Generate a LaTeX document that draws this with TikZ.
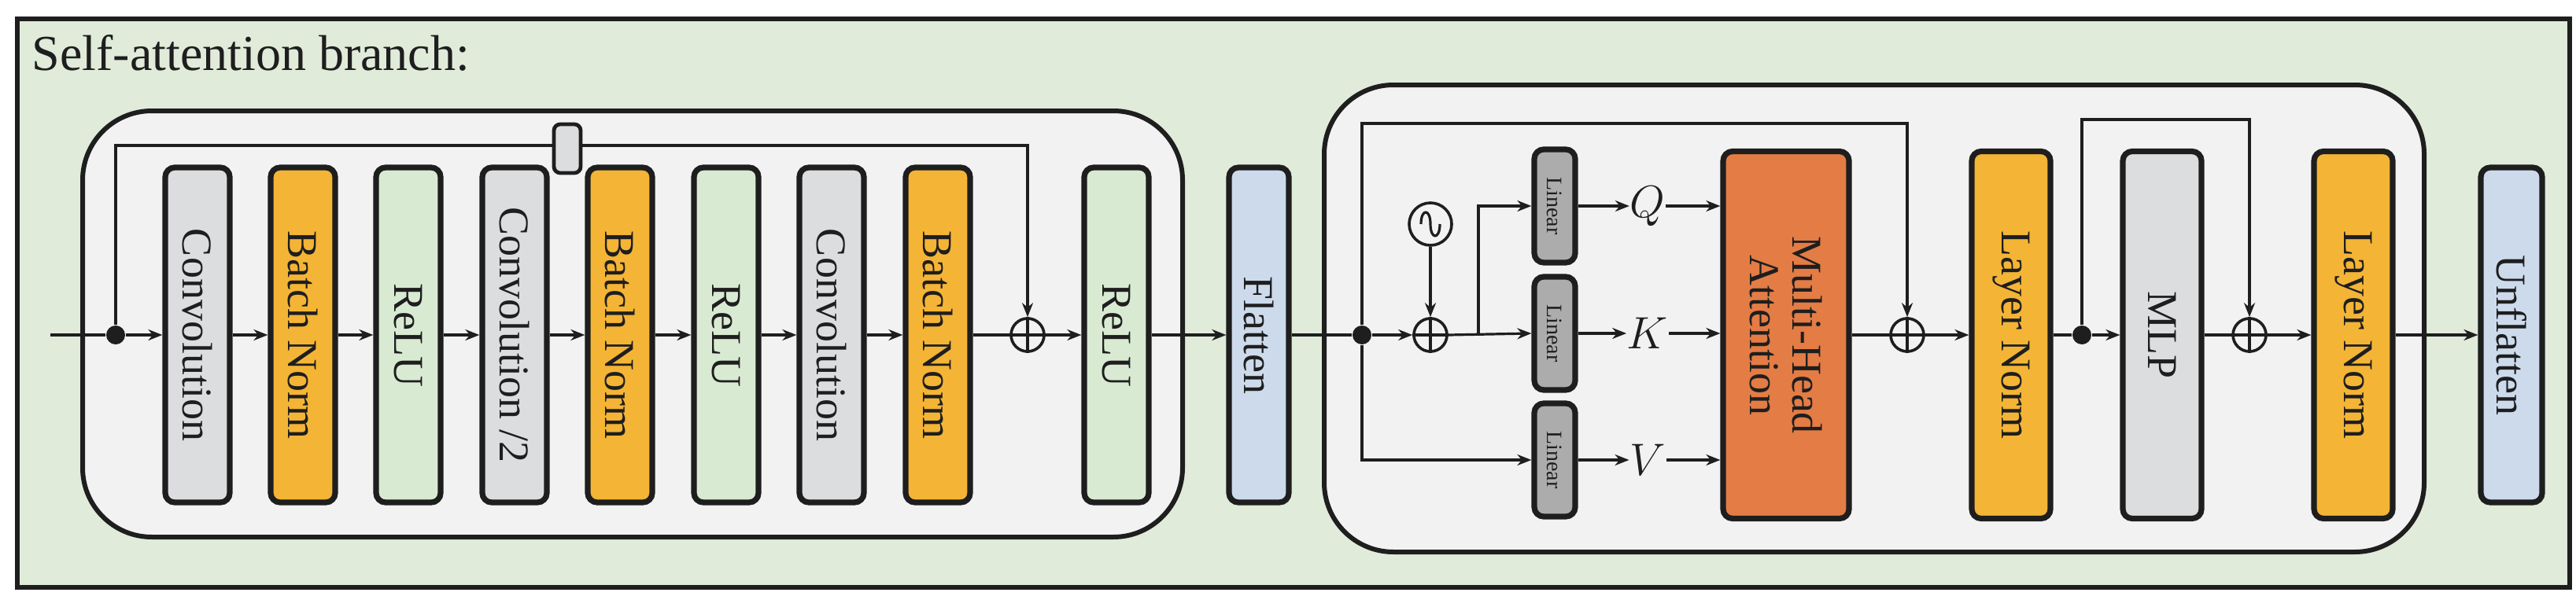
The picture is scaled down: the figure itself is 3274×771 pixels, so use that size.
\documentclass[tikz,border=0pt]{standalone}
\usepackage{fontspec}
\setmainfont{Liberation Serif}
\usetikzlibrary{arrows.meta}
\definecolor{bggreen}{HTML}{E0EBDA}
\definecolor{cont}{HTML}{F2F2F2}
\definecolor{gbox}{HTML}{DCDDDF}
\definecolor{obox}{HTML}{F4B435}
\definecolor{rbox}{HTML}{D9EAD3}
\definecolor{fbox}{HTML}{CCDAEC}
\definecolor{mbox}{HTML}{E37C45}
\definecolor{lbox}{HTML}{ACACAC}
\definecolor{ink}{HTML}{1E1E1E}
\begin{document}
\begin{tikzpicture}[x=0.25pt,y=-0.25pt,
  every node/.style={inner sep=0pt},
  ln/.style={draw=ink,line width=0.8pt},
  arr/.style={ln,-{Stealth[length=4.5pt,width=3.5pt]}},
  blk/.style={draw=ink,line width=1.8pt,rounded corners=3pt,rotate=-90,font=\fontsize{13.5}{13.5}\selectfont,text=ink},
  sbox/.style={blk,minimum width=106.5pt,minimum height=20.5pt},
  lin/.style={blk,fill=lbox,minimum width=36pt,minimum height=13pt,font=\fontsize{7}{7}\selectfont},
  big/.style={blk,minimum width=116.75pt},
  op/.style={circle,draw=ink,line width=0.9pt,minimum size=10.5pt},
  dot/.style={circle,fill=ink,minimum size=6pt},
  lab/.style={font=\fontsize{14}{14}\selectfont,text=ink}]
\useasboundingbox (0,0) rectangle (3274,771);
\fill[white] (0,0) rectangle (3274,771);
\draw[fill=bggreen,draw=ink,line width=1.5pt] (22,24) rectangle (3266,747);
\node[anchor=base west,font=\fontsize{16}{16}\selectfont,text=ink] (title) at (40,89) {Self-attention branch:};
\draw[fill=cont,draw=ink,line width=1.5pt,rounded corners=22pt] (105,141) rectangle (1503,683);
\draw[fill=cont,draw=ink,line width=1.5pt,rounded corners=22pt] (1683,108) rectangle (3081,702);

% left block
\node[sbox,fill=gbox] (c1) at (251,426) {Convolution};
\node[sbox,fill=obox] (b1) at (385,426) {Batch Norm};
\node[sbox,fill=rbox] (r1) at (519,426) {ReLU};
\node[sbox,fill=gbox] (c2) at (654,426) {Convolution /2};
\node[sbox,fill=obox] (b2) at (788,426) {Batch Norm};
\node[sbox,fill=rbox] (r2) at (923,426) {ReLU};
\node[sbox,fill=gbox] (c3) at (1057,426) {Convolution};
\node[sbox,fill=obox] (b3) at (1192,426) {Batch Norm};
\node[sbox,fill=rbox] (r3) at (1419,426) {ReLU};
\node[sbox,fill=fbox,minimum height=19pt] (fl) at (1600,426) {Flatten};
\coordinate (in) at (64,426);
\node[dot] (d1) at (147,426) {};
\node[op] (o1) at (1306,426) {};
\draw[ln] (o1.north)--(o1.south) (o1.west)--(o1.east);
\draw[ln] (in)--(d1);
\draw[arr] (d1)--(c1.south);
\draw[arr] (c1.north)--(b1.south);
\draw[arr] (b1.north)--(r1.south);
\draw[arr] (r1.north)--(c2.south);
\draw[arr] (c2.north)--(b2.south);
\draw[arr] (b2.north)--(r2.south);
\draw[arr] (r2.north)--(c3.south);
\draw[arr] (c3.north)--(b3.south);
\draw[ln] (b3.north)--(o1.west);
\draw[arr] (o1.east)--(r3.south);
\draw[arr] (r3.north)--(fl.south);
\coordinate (s1) at (147,185);
\coordinate (s2) at (1306,185);
\draw[arr] (d1)--(s1)--(s2)--(o1.north);
\node[draw=ink,line width=1.2pt,fill=gbox,rounded corners=2pt,minimum width=8.5pt,minimum height=15.5pt] (sm) at (721,189) {};

% right block
\node[dot] (d2) at (1731,426) {};
\node[op] (o2) at (1818,426) {};
\draw[ln] (o2.north)--(o2.south) (o2.west)--(o2.east);
\node[circle,draw=ink,line width=0.9pt,minimum size=13.5pt] (pe) at (1818,285) {};
\draw[ink,line width=0.8pt] (1806,285) .. controls (1806,265) and (1818,265) .. (1818,285) .. controls (1818,305) and (1830,305) .. (1830,285);
\node[lin] (lq) at (1976,262) {Linear};
\node[lin] (lk) at (1976,424) {Linear};
\node[lin] (lv) at (1976,585) {Linear};
\node[lab] (q) at (2094,262) {$Q$};
\node[lab] (k) at (2094,424) {$K$};
\node[lab] (v) at (2094,585) {$V$};
\node[big,fill=mbox,minimum height=40pt,align=center] (mha) at (2270,426) {Multi-Head\\Attention};
\node[op] (o3) at (2424,426) {};
\draw[ln] (o3.north)--(o3.south) (o3.west)--(o3.east);
\node[big,fill=obox,minimum height=25pt] (ln1) at (2556,426) {Layer Norm};
\node[dot] (d3) at (2646,426) {};
\node[big,fill=gbox,minimum height=25pt] (mlp) at (2748,426) {MLP};
\node[op] (o4) at (2859,426) {};
\draw[ln] (o4.north)--(o4.south) (o4.west)--(o4.east);
\node[big,fill=obox,minimum height=25pt] (ln2) at (2991,426) {Layer Norm};
\node[sbox,fill=fbox,minimum height=19.5pt] (uf) at (3192,426) {Unflatten};

\draw[ln] (fl.north)--(d2);
\draw[arr] (d2)--(o2.west);
\draw[arr] (pe)--(o2.north);
\coordinate (br) at (1879,426);
\draw[arr] (o2.east)--(lk.south);
\draw[arr] (br)|-(lq.south);
\draw[arr] (d2)|-(lv.south);
\draw[arr] (lq.north)--(q.west);
\draw[arr] (lk.north)--(k.west);
\draw[arr] (lv.north)--(v.west);
\draw[arr] (q.east)--(mha.south|-q);
\draw[arr] (k.east)--(mha.south|-k);
\draw[arr] (v.east)--(mha.south|-v);
\coordinate (t1) at (1731,157);
\coordinate (t2) at (2424,157);
\draw[arr] (d2)--(t1)--(t2)--(o3.north);
\draw[ln] (mha.north|-o3)--(o3.west);
\draw[arr] (o3.east)--(ln1.south);
\draw[ln] (ln1.north)--(d3);
\draw[arr] (d3)--(mlp.south);
\coordinate (t3) at (2646,152);
\coordinate (t4) at (2859,152);
\draw[arr] (d3)--(t3)--(t4)--(o4.north);
\draw[ln] (mlp.north)--(o4.west);
\draw[arr] (o4.east)--(ln2.south);
\draw[arr] (ln2.north)--(uf.south);
\end{tikzpicture}
\end{document}
